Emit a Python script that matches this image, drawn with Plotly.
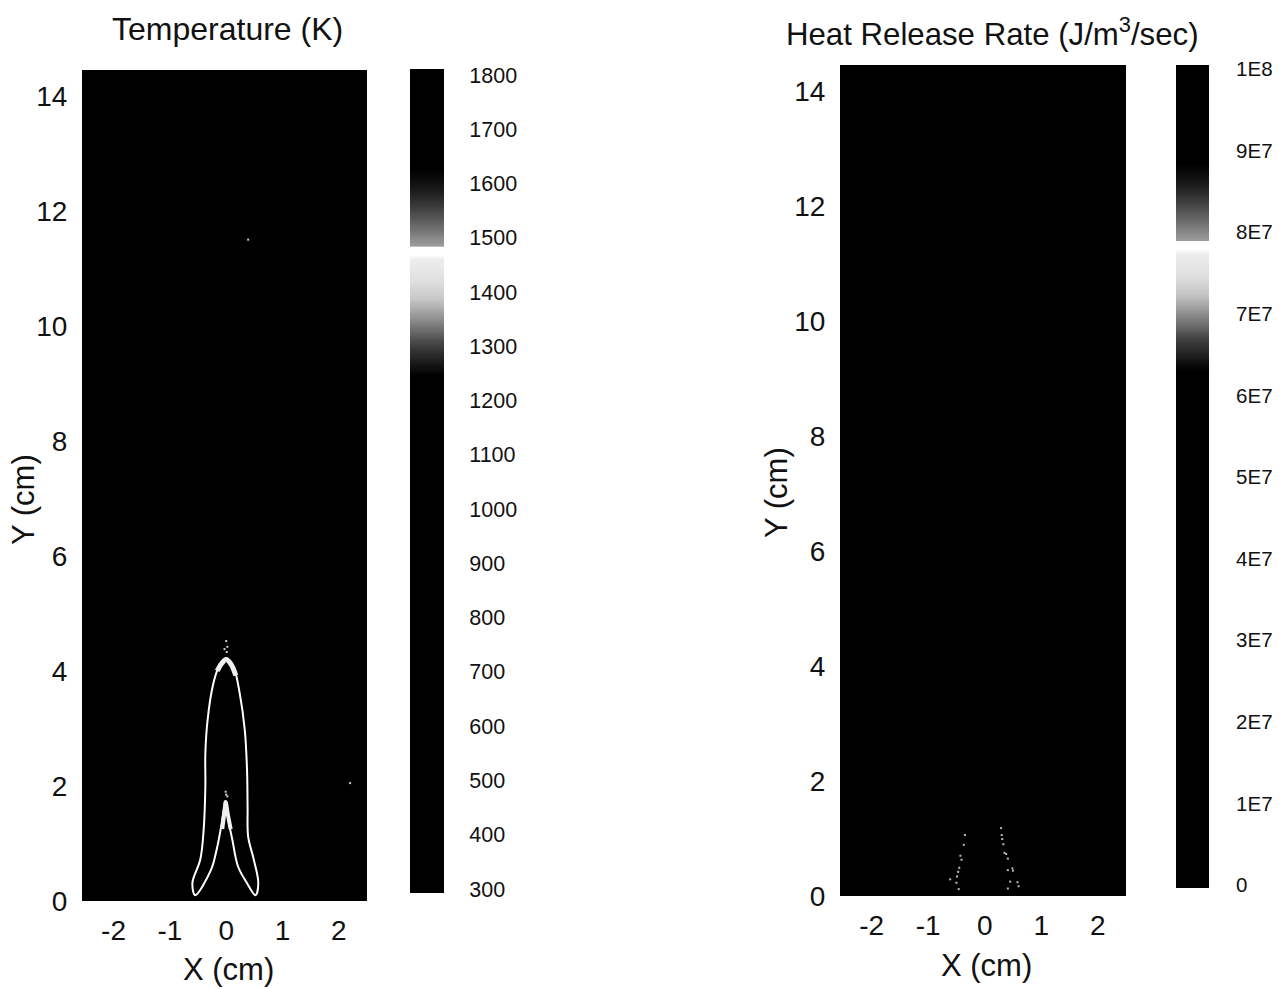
import numpy as np
import plotly.graph_objects as go

W, H = 1282, 989

# ---------- data ----------
temp_ticks = [300, 400, 500, 600, 700, 800, 900, 1000, 1100, 1200, 1300, 1400, 1500, 1600, 1700, 1800]
temp_labels = [str(t) for t in temp_ticks]
hrr_ticks = [0, 1e7, 2e7, 3e7, 4e7, 5e7, 6e7, 7e7, 8e7, 9e7, 1e8]
hrr_labels = ["0", "1E7", "2E7", "3E7", "4E7", "5E7", "6E7", "7E7", "8E7", "9E7", "1E8"]

x_ticks = [-2, -1, 0, 1, 2]
x_labels = ["-2", "-1", "0", "1", "2"]
y_ticks = [0, 2, 4, 6, 8, 10, 12, 14]

# flame sheet outline in the temperature panel (closed loop, X/Y in cm)
flame_x = [-0.55, -0.60, -0.46, -0.40, -0.37, -0.37, -0.33, -0.24, -0.14, 0.00, 0.13, 0.24, 0.33,
           0.37, 0.38, 0.39, 0.49, 0.57, 0.52, 0.37, 0.21, 0.11, 0.05, -0.01, -0.09, -0.17, -0.27, -0.55]
flame_y = [0.10, 0.31, 0.72, 1.24, 1.99, 2.57, 3.15, 3.73, 4.05, 4.22, 4.07, 3.61, 2.97,
           2.28, 1.64, 1.12, 0.72, 0.31, 0.10, 0.31, 0.60, 1.06, 1.35, 1.73, 1.29, 0.89, 0.54, 0.10]
# thicker parts of the flame
cap_x = [-0.16, -0.08, 0.00, 0.09, 0.17]
cap_y = [4.00, 4.13, 4.20, 4.11, 3.92]
core_x = [-0.07, -0.03, -0.01, 0.03, 0.08]
core_y = [1.25, 1.55, 1.72, 1.50, 1.25]
# isolated bright specks in the temperature panel
speck_x = [0.00, 0.02, -0.03, 0.01, -0.01, 0.02, 0.00, 0.39, 2.20]
speck_y = [4.52, 4.42, 4.38, 4.33, 1.90, 1.82, 1.85, 11.50, 2.05]

# heat release specks (X/Y in cm)
hrr_x = [-0.35, -0.37, -0.43, -0.41, -0.45, -0.47, -0.49, -0.61, -0.50, -0.46,
         0.29, 0.30, 0.31, 0.33, 0.35, 0.38, 0.41, 0.41, 0.49, 0.50, 0.45, 0.58, 0.60, 0.41]
hrr_y = [1.06, 0.89, 0.70, 0.63, 0.49, 0.42, 0.34, 0.29, 0.23, 0.12,
         1.18, 1.06, 0.99, 0.90, 0.75, 0.73, 0.65, 0.45, 0.48, 0.44, 0.25, 0.24, 0.17, 0.13]

# field values: the visible panels sit at the bottom of the scale
field_x = [-2.56, 2.5]
field_y = [0.0, 14.45]
temp_field = [[300, 300], [300, 300]]
hrr_field = [[0, 0], [0, 0]]

# grey ramp of the legend bars (fraction of scale, mean grey level of the stipple)
ramp_pos = [0.000, 0.631, 0.668, 0.699, 0.724, 0.748, 0.773, 0.779, 0.789, 0.7895, 0.816, 0.840, 0.859, 0.883, 1.000]
ramp_gray = [0.00, 0.00, 0.25, 0.55, 0.78, 0.88, 0.93, 1.00, 1.00, 0.62, 0.40, 0.22, 0.10, 0.00, 0.00]


def gs(g):
    v = int(round(g * 255))
    return f"rgb({v},{v},{v})"


colorscale = [[p, gs(g)] for p, g in zip(ramp_pos, ramp_gray)]
BLACK = [[0, "#000"], [1, "#000"]]
FONT = "Liberation Sans, Arial, sans-serif"
INK = "#111"


def dx(a, b):
    return [a / W, b / W]


def dy(top, bottom):
    return [1 - bottom / H, 1 - top / H]


fig = go.Figure()

# --- main panels
fig.add_trace(go.Heatmap(x=field_x, y=field_y, z=temp_field, colorscale=BLACK, showscale=False,
                         hoverinfo="skip", xaxis="x", yaxis="y"))
fig.add_trace(go.Heatmap(x=field_x, y=field_y, z=hrr_field, colorscale=BLACK, showscale=False,
                         hoverinfo="skip", xaxis="x2", yaxis="y2"))

fig.add_trace(go.Scatter(x=flame_x, y=flame_y, mode="lines", line=dict(color="white", width=2, shape="spline"),
                         showlegend=False, xaxis="x", yaxis="y"))
fig.add_trace(go.Scatter(x=cap_x, y=cap_y, mode="lines", line=dict(color="#f0f0f0", width=5, shape="spline"),
                         showlegend=False, xaxis="x", yaxis="y"))
fig.add_trace(go.Scatter(x=core_x, y=core_y, mode="lines", line=dict(color="#f0f0f0", width=4, shape="spline"),
                         showlegend=False, xaxis="x", yaxis="y"))
fig.add_trace(go.Scatter(x=speck_x, y=speck_y, mode="markers", marker=dict(color="#cccccc", size=2, symbol="square"),
                         showlegend=False, xaxis="x", yaxis="y"))
fig.add_trace(go.Scatter(x=hrr_x, y=hrr_y, mode="markers", marker=dict(color="#bbbbbb", size=2, symbol="square"),
                         showlegend=False, xaxis="x2", yaxis="y2"))

# --- legend bars
temp_levels = np.arange(290, 1815, 2)
fig.add_trace(go.Heatmap(x=[0, 1], y=temp_levels, z=[[t, t] for t in temp_levels], zmin=300, zmax=1800,
                         colorscale=colorscale, showscale=False, hoverinfo="skip", xaxis="x3", yaxis="y3"))
hrr_levels = np.arange(-0.04e7, 1.006e8, 0.012e7)
fig.add_trace(go.Heatmap(x=[0, 1], y=hrr_levels, z=[[v, v] for v in hrr_levels], zmin=0, zmax=1e8,
                         colorscale=colorscale, showscale=False, hoverinfo="skip", xaxis="x4", yaxis="y4"))


def main_x(domain, anchor):
    return dict(domain=domain, anchor=anchor, range=[-2.56, 2.5], tickvals=x_ticks, ticktext=x_labels,
                showgrid=False, zeroline=False, automargin=False,
                ticks="outside", ticklen=4, tickcolor="white",
                tickfont=dict(size=28, family=FONT, color=INK), showline=False)


def main_y(domain, anchor):
    return dict(domain=domain, anchor=anchor, range=[0, 14.45], tickvals=y_ticks, showgrid=False, zeroline=False,
                automargin=False, ticks="outside", ticklen=8, tickcolor="white",
                tickfont=dict(size=28, family=FONT, color=INK), showline=False)


def bar_y(domain, anchor, rng, vals, labels, tl, fs):
    return dict(domain=domain, anchor=anchor, side="right", range=rng, tickvals=vals, ticktext=labels,
                automargin=False, showgrid=False, zeroline=False, ticks="outside", ticklen=tl, tickcolor="white",
                tickfont=dict(size=fs, family=FONT, color=INK), showline=False)


hidden = dict(range=[0, 1], showticklabels=False, showgrid=False, zeroline=False, ticks="", showline=False)


def label(text, x, y, size, angle=0):
    return dict(text=text, xref="paper", yref="paper", x=x / W, y=1 - y / H, showarrow=False, textangle=angle,
                xanchor="center", yanchor="middle", font=dict(size=size, family=FONT, color=INK))


fig.update_layout(
    width=W, height=H, margin=dict(l=0, r=0, t=0, b=0),
    paper_bgcolor="white", plot_bgcolor="black", showlegend=False, font=dict(family=FONT, color=INK),
    xaxis=main_x(dx(82, 367), "y"),
    yaxis=main_y(dy(70, 901), "x"),
    xaxis2=main_x(dx(840, 1126), "y2"),
    yaxis2=main_y(dy(65, 896), "x2"),
    xaxis3=dict(domain=dx(410, 444), anchor="y3", **hidden),
    yaxis3=bar_y(dy(69, 893), "x3", [292.6, 1811], temp_ticks, temp_labels, 20, 21.5),
    xaxis4=dict(domain=dx(1176, 1209), anchor="y4", **hidden),
    yaxis4=bar_y(dy(65, 888), "x4", [-0.037e7, 1.005e8], hrr_ticks, hrr_labels, 22, 20.5),
    annotations=[
        label("Temperature (K)", 227, 29, 32),
        label("Heat Release Rate (J/m<sup>3</sup>/sec)", 992, 32, 31.2),
        label("X (cm)", 228, 969, 31),
        label("X (cm)", 986, 965, 31),
        label("Y (cm)", 23, 500, 31, -90),
        label("Y (cm)", 776, 493, 31, -90),
    ],
)

fig.write_html("out.html", config={"displayModeBar": False}, post_script="document.body.style.margin='0';")
